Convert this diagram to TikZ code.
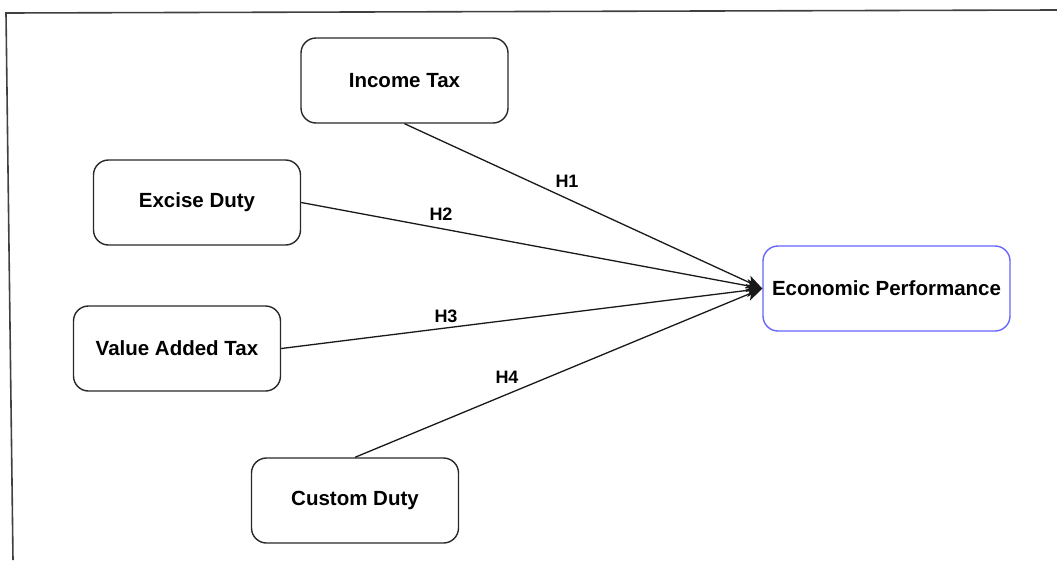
\documentclass[tikz,border=0pt]{standalone}
\usepackage{fontspec}
\setmainfont{Liberation Sans}
\usetikzlibrary{arrows.meta}
\definecolor{epblue}{RGB}{102,102,255}
\definecolor{boxgray}{RGB}{40,40,40}
\tikzset{
  varbox/.style={draw=boxgray, line width=1.4pt, rounded corners=15pt, minimum width=207pt, minimum height=85pt, inner sep=0pt, font=\fontsize{20.5pt}{24pt}\selectfont\bfseries, text=black, fill=white},
  epbox/.style={varbox, draw=epblue, minimum width=247pt},
  link/.style={draw=black!90, line width=1.3pt, -{Stealth[length=16pt,width=13pt,inset=4pt]}},
  hlab/.style={font=\fontsize{18pt}{20pt}\selectfont\bfseries, text=black, inner sep=0pt},
  frame/.style={draw=black!75, line width=1.6pt}
}
\begin{document}
\begin{tikzpicture}[x=1pt,y=-1pt]
\useasboundingbox (0,0) rectangle (1057,560);
\coordinate (fa) at (6,13);
\coordinate (fb) at (1057,10);
\coordinate (fc) at (13,560);
\draw[frame] (fb) -- (fa) -- (fc);
\node[varbox] (it) at (404.5,80.5) {Income Tax};
\node[varbox] (ed) at (197,202.5) {Excise Duty};
\node[varbox] (vat) at (177,348.5) {Value Added Tax};
\node[varbox] (cd) at (355,500.5) {Custom Duty};
\node[epbox] (ep) at (886.5,288.5) {Economic Performance};
\draw[link] (it.south) -- (ep.west);
\draw[link] (ed.east) -- (ep.west);
\draw[link] (vat.east) -- (ep.west);
\draw[link] (cd.north) -- (ep.west);
\node[hlab] (h1) at (567,181) {H1};
\node[hlab] (h2) at (441,214) {H2};
\node[hlab] (h3) at (446,316) {H3};
\node[hlab] (h4) at (507,377) {H4};
\end{tikzpicture}
\end{document}
